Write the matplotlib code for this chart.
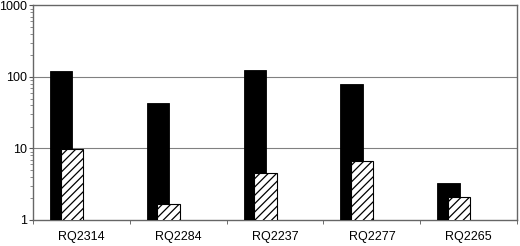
import matplotlib
matplotlib.use('Agg')
import matplotlib.pyplot as plt
import numpy as np

# Данные
strains = ['RQ2314', 'RQ2284', 'RQ2237', 'RQ2277', 'RQ2265']
solid_values = [121, 43, 126, 81, 3.25]
hatched_values = [9.8, 1.67, 4.5, 6.7, 2.1]

plt.rcParams['font.family'] = ['Liberation Sans', 'DejaVu Sans']
plt.rcParams['hatch.linewidth'] = 0.9


def plot_bars():
    fig = plt.figure(figsize=(5.2, 2.46), dpi=100)
    ax = fig.add_axes([0.0635, 0.1057, 0.931, 0.872])

    x = np.arange(len(strains))
    width = 0.23
    ax.bar(x - 0.21, solid_values, width, color='black',
           edgecolor='black', linewidth=0.6, zorder=3)
    ax.bar(x - 0.10, hatched_values, width, color='white',
           edgecolor='black', hatch='////', linewidth=0.8, zorder=4)

    ax.set_yscale('log')
    ax.set_ylim(1, 1000)
    ax.set_xlim(-0.5, len(strains) - 0.5)

    ax.set_yticks([1, 10, 100, 1000])
    ax.set_yticklabels(['1', '10', '100', '1000'], fontsize=9)
    ax.tick_params(axis='y', which='major', length=3, width=0.8, pad=1,
                   color='#555555')
    ax.tick_params(axis='y', which='minor', length=2, width=0.6,
                   color='#777777')

    ax.set_xticks(x)
    ax.set_xticklabels(strains, fontsize=9)
    ax.set_xticks(np.arange(len(strains) + 1) - 0.5, minor=True)
    ax.tick_params(axis='x', which='major', length=0, pad=8)
    ax.tick_params(axis='x', which='minor', length=3, width=0.6,
                   color='#555555')

    for v in [10, 100]:
        ax.axhline(v, color='#808080', linewidth=0.8, zorder=1)

    for side in ['left', 'bottom', 'top', 'right']:
        ax.spines[side].set_color('#666666')
        ax.spines[side].set_linewidth(1.0)

    fig.savefig('out.png', dpi=100)


if __name__ == "__main__":
    plot_bars()
